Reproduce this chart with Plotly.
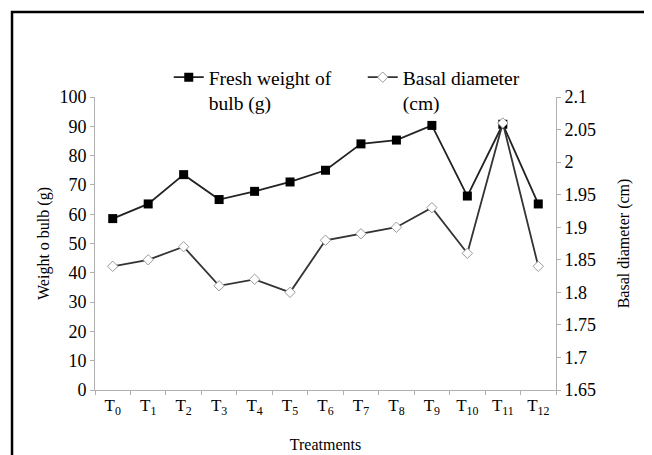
import plotly.graph_objects as go

treatments = ["T<sub>%d</sub>" % i for i in range(13)]
fresh_weight = [58.5, 63.5, 73.5, 65, 67.8, 71, 75, 84, 85.3, 90.3, 66.2, 90.7, 63.5]
basal_diameter = [1.84, 1.85, 1.87, 1.81, 1.82, 1.80, 1.88, 1.89, 1.90, 1.93, 1.86, 2.06, 1.84]

serif = "Liberation Serif, Times New Roman, serif"

fig = go.Figure()
# Fresh weight on the left axis
fig.add_trace(go.Scatter(
    x=treatments, y=fresh_weight, name="Fresh weight of<br>bulb (g)",
    mode="lines+markers",
    line=dict(color="#222222", width=1.8),
    marker=dict(symbol="square", size=9, color="black"),
))
# Basal diameter on the right axis
fig.add_trace(go.Scatter(
    x=treatments, y=basal_diameter, name="Basal diameter<br>(cm)",
    mode="lines+markers", yaxis="y2",
    line=dict(color="#333333", width=1.8),
    marker=dict(symbol="diamond", size=8, color="white", line=dict(color="#999999", width=1)),
))

axis_style = dict(showline=True, linecolor="#b0b0b0", linewidth=1, ticks="outside",
                  tickcolor="#b0b0b0", ticklen=4, showgrid=False, zeroline=False,
                  automargin=False, tickfont=dict(family=serif, size=18, color="black"))

# the page body adds 8px on the top/left, so margins are trimmed by that
fig.update_layout(
    width=652, height=455,
    margin=dict(l=87, r=104, t=89, b=73),
    paper_bgcolor="white", plot_bgcolor="white",
    font=dict(family=serif, color="black"),
    showlegend=True,
    legend=dict(orientation="h", x=0.16, y=1.133, xanchor="left", yanchor="top",
                valign="top", entrywidth=149, entrywidthmode="pixels",
                font=dict(family=serif, size=19.5), bgcolor="rgba(0,0,0,0)"),
    xaxis=dict(**axis_style, tickson="boundaries", range=[-0.5, 12.5],
               title=dict(text="Treatments", font=dict(family=serif, size=16), standoff=21)),
    yaxis=dict(**axis_style, range=[0, 100], dtick=10,
               title=dict(text="Weight o bulb (g)", font=dict(family=serif, size=16), standoff=5)),
    yaxis2=dict(**axis_style, range=[1.65, 2.1], dtick=0.05, overlaying="y", side="right",
                title=dict(text="Basal diameter (cm)", font=dict(family=serif, size=16), standoff=22)),
)
fig.update_xaxes(tickfont=dict(size=17))

# Outer frame round the chart
fig.add_shape(type="rect", xref="paper", yref="paper",
              x0=-0.18, x1=1.25, y0=-0.3, y1=1.29,
              line=dict(color="black", width=2.5))

fig.write_html("out.html")
